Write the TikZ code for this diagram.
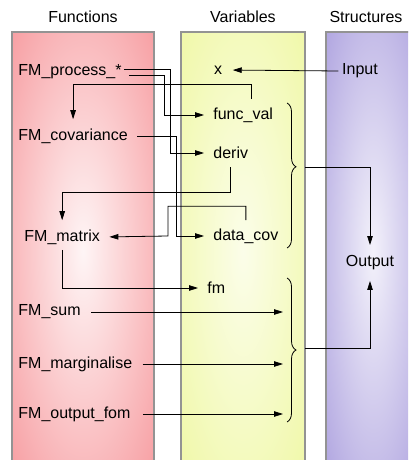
\documentclass[tikz,border=0pt]{standalone}
\usepackage{fontspec}
\setmainfont{Liberation Sans}
\usetikzlibrary{arrows.meta, decorations.pathreplacing}

\definecolor{funcpink}{RGB}{247,158,162}
\definecolor{varyellow}{RGB}{240,248,168}
\definecolor{structpurple}{RGB}{176,165,224}
\pgfdeclareradialshading{funcshade}{\pgfpoint{0bp}{0bp}}{color(0bp)=(funcpink!10); color(36bp)=(funcpink); color(50bp)=(funcpink)}
\pgfdeclareradialshading{varshade}{\pgfpoint{0bp}{0bp}}{color(0bp)=(varyellow!25); color(36bp)=(varyellow); color(50bp)=(varyellow)}
\pgfdeclareradialshading{structshade}{\pgfpoint{0bp}{0bp}}{color(0bp)=(structpurple!15); color(36bp)=(structpurple); color(50bp)=(structpurple)}

\begin{document}
\begin{tikzpicture}[x=1pt, y=-1pt, line width=0.8pt,
        font=\fontsize{16}{19}\selectfont,
        lab/.style={inner sep=2pt, anchor=west},
        col/.style={draw=gray!85, line width=1.2pt},
        arr/.style={-{Triangle[length=9pt,width=5.5pt]}, shorten >=7pt},
        brc/.style={decorate, decoration={brace, amplitude=9pt, aspect=#1}}]
        \clip (0,0) rectangle (408,460);
        \shadedraw[col, shading=funcshade] (12,32) rectangle (154,470);
        \shadedraw[col, shading=varshade] (181,32) rectangle (305,470);
        \shadedraw[col, shading=structshade] (326,32) rectangle (420,470);

        \node (tfunc) at (83,17) {Functions};
        \node (tvar) at (243,17) {Variables};
        \node (tstruct) at (366,17) {Structures};

        \node[lab] (proc) at (16,72) {FM\_process\_*};
        \node[lab] (cov) at (16,136) {FM\_covariance};
        \node[lab] (matrix) at (22,237) {FM\_matrix};
        \node[lab] (sum) at (16,312) {FM\_sum};
        \node[lab] (marg) at (16,364) {FM\_marginalise};
        \node[lab] (fom) at (16,414) {FM\_output\_fom};

        \node (x) at (218,70) {x};
        \node[lab] (funcval) at (211,115) {func\_val};
        \node[lab] (deriv) at (211,153) {deriv};
        \node[lab] (datacov) at (211,236) {data\_cov};
        \node[lab] (fm) at (205,288) {fm};

        \node (input) at (360,71) {Input};
        \node (output) at (370,263) {Output};

        \coordinate (ub1) at (287,103);
        \coordinate (ub2) at (287,248);
        \coordinate (lb1) at (287,278);
        \coordinate (lb2) at (287,422);
        \coordinate (utip) at (305,167);
        \coordinate (ltip) at (305,348);
        \draw[brc=0.44] (ub1) -- (ub2);
        \draw[brc=0.5] (lb1) -- (lb2);

        \draw[arr] (input.west) -- (x.east);
        \draw[arr] ([yshift=3pt]proc.east) -| ([xshift=-41pt]deriv.west) -- (deriv.west);
        \draw[arr, shorten <=5pt] ([yshift=-3pt]proc.east) -| ([xshift=-47pt]funcval.west) -- (funcval.west);
        \draw[arr] ([xshift=8pt,yshift=6pt]funcval.north) -- ++(0,-15) -| (cov.north);
        \draw[arr, shorten <=7pt] (cov.east) -| ([xshift=-35pt]datacov.west) -- (datacov.west);
        \draw[arr] ([yshift=-6pt]deriv.south) -- ++(0,25) -| (matrix.north);
        \draw[arr] ([yshift=6pt]datacov.north) -- ++(0,-14) -| ([xshift=-43pt]datacov.west) -- (matrix.east);
        \draw[arr, shorten <=3pt] (matrix.south) |- (fm.west);

        \draw[arr, shorten <=8pt, shorten >=4pt] (sum.east) -- (sum.east -| lb1);
        \draw[arr, shorten <=8pt, shorten >=4pt] (marg.east) -- (marg.east -| lb1);
        \draw[arr, shorten <=10pt, shorten >=4pt] (fom.east) -- (fom.east -| lb1);

        \draw[arr] (utip) -| (output.north);
        \draw[arr] (ltip) -| (output.south);
\end{tikzpicture}
\end{document}
